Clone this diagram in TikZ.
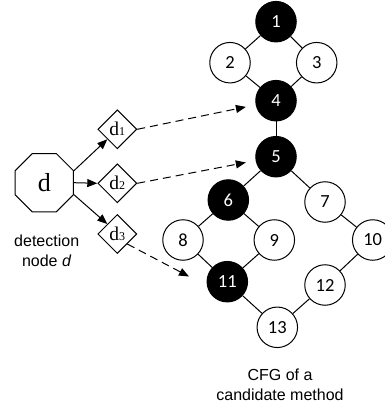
\documentclass[tikz,border=0pt]{standalone}
\usepackage{fontspec}
\setmainfont{Liberation Serif}
\newfontfamily\calfont{Carlito}
\newfontfamily\arialfont{Liberation Sans}
\usetikzlibrary{shapes.geometric,arrows.meta}
\begin{document}
\begin{tikzpicture}[x=1pt,y=-1pt,
  cfg/.style={circle,draw,line width=1pt,minimum size=40.5pt,inner sep=0pt,font=\calfont\fontsize{18.5}{20}\selectfont},
  hot/.style={cfg,fill=black,text=white},
  cold/.style={cfg,fill=white},
  det/.style={diamond,draw,line width=1pt,minimum size=39pt,inner sep=0pt,font=\fontsize{19.5}{20}\selectfont},
  oct/.style={regular polygon,regular polygon sides=8,draw,line width=1pt,minimum size=63pt,inner sep=0pt,font=\fontsize{26}{28}\selectfont},
  edge/.style={line width=1pt},
  arr/.style={line width=1pt,-{Triangle[length=10pt,width=8pt]}},
  darr/.style={arr,dash pattern=on 8pt off 5pt},
  lab/.style={align=center,font=\arialfont\fontsize{16}{20}\selectfont}]
\useasboundingbox (0,0) rectangle (384,406);
% CFG nodes
\node[hot]  (n1)  at (276,21.7) {1};
\node[cold] (n2)  at (230,62.7) {2};
\node[cold] (n3)  at (316.7,62.7) {3};
\node[hot]  (n4)  at (276,100.7) {4};
\node[hot]  (n5)  at (276,156.7) {5};
\node[hot]  (n6)  at (228.3,200) {6};
\node[cold] (n7)  at (325,202) {7};
\node[cold] (n8)  at (183,240) {8};
\node[cold] (n9)  at (274.3,240) {9};
\node[cold] (n10) at (372.7,240) {10};
\node[hot]  (n11) at (227.3,281.7) {11};
\node[cold] (n12) at (325,285) {12};
\node[cold] (n13) at (277.3,327.3) {13};
\foreach \a/\b in {n1/n2,n1/n3,n2/n4,n3/n4,n4/n5,n5/n6,n5/n7,n6/n8,n6/n9,n8/n11,n9/n11,n7/n10,n10/n12,n12/n13,n11/n13}
  \draw[edge] (\a) -- (\b);
% detection node
\node[oct] (d) at (44.3,182.7) {d};
\node[det] (d1) at (117.3,129.3) {d{\fontsize{12}{12}\selectfont 1}};
\node[det] (d2) at (117.3,183.3) {d{\fontsize{12}{12}\selectfont 2}};
\node[det] (d3) at (117.3,234) {d{\fontsize{12}{12}\selectfont 3}};
\draw[arr] (d.22.5) -- (d1.south west);
\draw[arr] (d.east) -- (d2.west);
\draw[arr] (d.-22.5) -- (d3.north west);
\coordinate (e11) at (189,276.5);
\draw[darr,shorten >=10pt] (d1.east) -- (n4);
\draw[darr,shorten >=10pt] (d2.east) -- (n5);
\draw[darr] (d3.south east) -- (e11);
% labels
\node[lab] (ldet) at (46.7,251) {detection\\node \textit{d}};
\node[lab] (lcfg) at (280,385) {CFG of a\\candidate method};
\end{tikzpicture}
\end{document}
